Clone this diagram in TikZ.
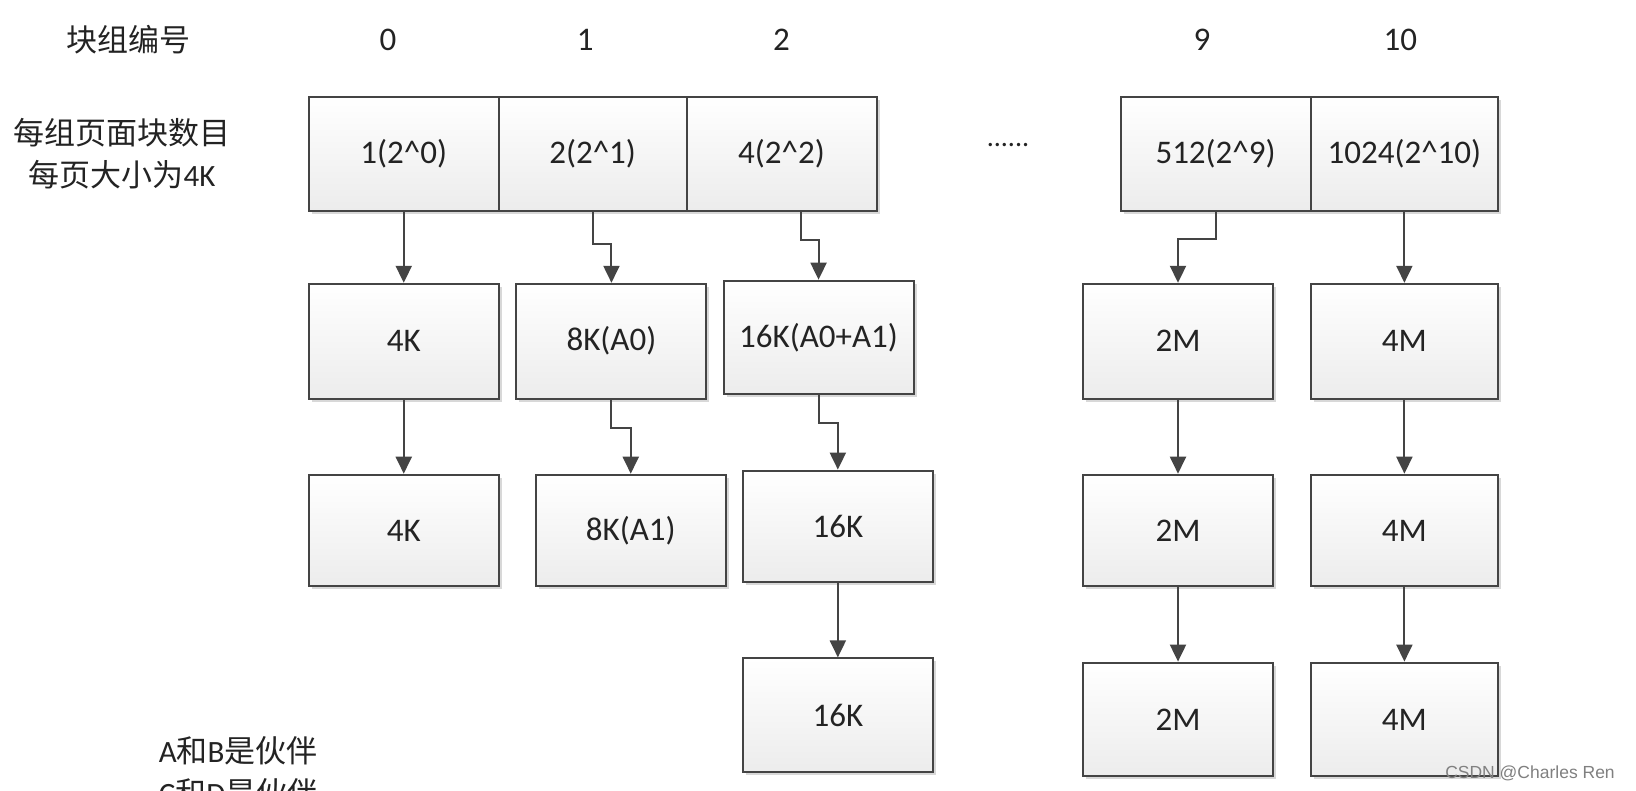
\documentclass[tikz,border=0pt]{standalone}
\usepackage{fontspec}
\setmainfont{Carlito}
\newfontfamily\cjk{Noto Sans CJK SC}
\newfontfamily\wmfont{Liberation Sans}
\usetikzlibrary{arrows.meta,shadows,calc}
\definecolor{edge}{RGB}{68,68,68}
\definecolor{txt}{RGB}{35,35,35}
\tikzset{
  box/.style={draw=edge, line width=2pt, top color=white, bottom color={rgb,255:red,236;green,236;blue,236},
    minimum width=190pt, minimum height=113pt, inner sep=0pt, text=txt,
    font=\fontsize{33}{39}\selectfont,
    drop shadow={shadow xshift=3pt, shadow yshift=-3pt, fill=black!25, opacity=0.6}},
  arr/.style={draw=edge, line width=2pt, -{Triangle[width=16pt,length=17pt]}},
  lbl/.style={text=txt, font=\fontsize{31}{37}\selectfont, inner sep=0pt}
}
\begin{document}
\begin{tikzpicture}[x=1pt,y=-1pt]
\path[use as bounding box] (0,0) rectangle (1636,790);
\clip (0,0) rectangle (1636,790);
\fill[white] (0,0) rectangle (1636,790);

% header
\node[lbl] (hdr) at (128.3,39.6) {\cjk 块组编号};
\node[lbl, font=\fontsize{33}{39}\selectfont] (h0) at (388.1,39.6) {0};
\node[lbl, font=\fontsize{33}{39}\selectfont] (h1) at (585.3,39.6) {1};
\node[lbl, font=\fontsize{33}{39}\selectfont] (h2) at (781.5,39.6) {2};
\node[lbl, font=\fontsize{33}{39}\selectfont] (h9) at (1202,39.6) {9};
\node[lbl, font=\fontsize{33}{39}\selectfont] (h10) at (1400.3,39.6) {10};

% left labels
\node[lbl] (l1) at (122,132.5) {\cjk 每组页面块数目};
\node[lbl] (l2) at (122,174.2) {{\cjk 每页大小为}4K};

% top row
\node[box, minimum width=189.9pt, minimum height=113.8pt] (c0) at (403.75,153.9) {1(2\textasciicircum 0)};
\node[box, minimum width=187.9pt, minimum height=113.8pt] (c1) at (592.65,153.9) {2(2\textasciicircum 1)};
\node[box, minimum width=189.9pt, minimum height=113.8pt] (c2) at (781.55,153.9) {4(2\textasciicircum 2)};
\node[lbl, font=\fontsize{28}{32}\selectfont] (dots) at (1008,145) {......};
\node[box, minimum width=189.9pt, minimum height=113.8pt] (c9) at (1215.55,153.9) {512(2\textasciicircum 9)};
\node[box, minimum width=187.8pt, minimum height=113.8pt] (c10) at (1404.4,153.9) {1024(2\textasciicircum 10)};

% row 2
\node[box, minimum height=114.8pt] (r2a) at (403.75,341.2) {4K};
\node[box, minimum height=114.8pt] (r2b) at (611.45,341.2) {8K(A0)};
\node[box, minimum height=113.7pt] (r2c) at (818.55,337.55) {16K(A0+A1)};
\node[box, minimum height=114.8pt] (r2d) at (1178,341.2) {2M};
\node[box, minimum width=187.8pt, minimum height=114.8pt] (r2e) at (1404.4,341.2) {4M};

% row 3
\node[box, minimum height=111.7pt] (r3a) at (403.75,530.55) {4K};
\node[box, minimum height=111.7pt] (r3b) at (630.75,530.55) {8K(A1)};
\node[box, minimum height=111.6pt] (r3c) at (837.85,526.4) {16K};
\node[box, minimum height=111.7pt] (r3d) at (1178,530.55) {2M};
\node[box, minimum width=187.8pt, minimum height=111.7pt] (r3e) at (1404.4,530.55) {4M};

% row 4
\node[box, minimum height=113.7pt] (r4c) at (837.85,715.25) {16K};
\node[box, minimum height=113.7pt] (r4d) at (1178,719.45) {2M};
\node[box, minimum width=187.8pt, minimum height=113.7pt] (r4e) at (1404.4,719.45) {4M};

% arrows
\draw[arr] (c0.south) -- (r2a.north);
\draw[arr] (c1.south) -- ++(0,31.9) -| (r2b.north);
\draw[arr] ([xshift=19.5pt]c2.south) -- ++(0,28.5) -| (r2c.north);
\draw[arr] (c9.south) -- ++(0,27.5) -| (r2d.north);
\draw[arr] (c10.south) -- (r2e.north);

\draw[arr] (r2a.south) -- (r3a.north);
\draw[arr] (r2b.south) -- ++(0,28.7) -| (r3b.north);
\draw[arr] (r2c.south) -- ++(0,27.9) -| (r3c.north);
\draw[arr] (r2d.south) -- (r3d.north);
\draw[arr] (r2e.south) -- (r3e.north);

\draw[arr] (r3c.south) -- (r4c.north);
\draw[arr] (r3d.south) -- (r4d.north);
\draw[arr] (r3e.south) -- (r4e.north);

% notes
\node[lbl, anchor=west] (n1) at (158.6,751.2) {A{\cjk 和}B{\cjk 是伙伴}};
\node[lbl, anchor=west] (n2) at (158.6,792.5) {C{\cjk 和}D{\cjk 是伙伴}};

% watermark
\node[inner sep=0pt, text=black!50, font=\wmfont\fontsize{17.5}{20}\selectfont] (wm) at (1530,773) {CSDN @Charles Ren};
\end{tikzpicture}
\end{document}
